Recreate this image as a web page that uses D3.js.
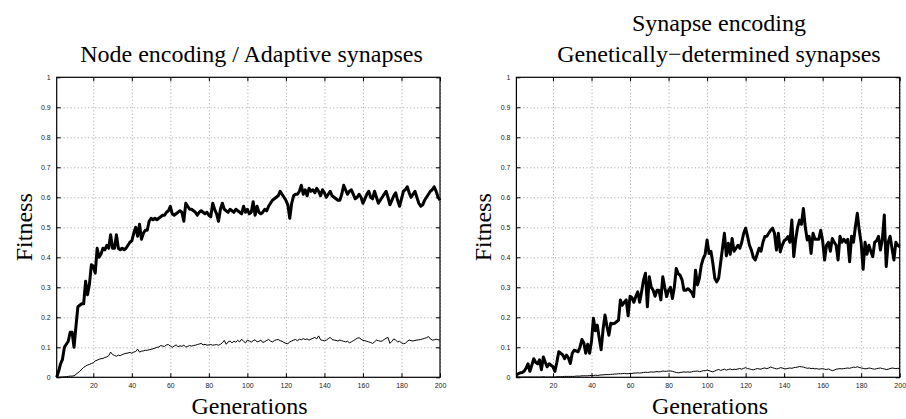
<!DOCTYPE html>
<html>
<head>
<meta charset="utf-8">
<script src="https://cdn.jsdelivr.net/npm/d3@7"></script>
<style>
  html, body { margin: 0; padding: 0; background: #fff; }
  svg { display: block; }
  .tick text { font-family: "Liberation Sans", Arial, Helvetica, sans-serif; font-size: 7px; fill: #222; }
  .ttl { font-family: "Liberation Serif", "Times New Roman", serif; font-size: 24px; fill: #000; }
</style>
</head>
<body>
<svg id="chart" width="906" height="419"></svg>
<script>
// ---------------- data ----------------
const panelTitles = [
  ["Node encoding / Adaptive synapses"],
  ["Synapse encoding", "Genetically\u2212determined synapses"]
];
const xLabel = "Generations";
const yLabel = "Fitness";
const xTicks = [20, 40, 60, 80, 100, 120, 140, 160, 180, 200];
const xTickLabels = ["20", "40", "60", "80", "100", "120", "140", "160", "180", "200"];
const yTicks = [0, 0.1, 0.2, 0.3, 0.4, 0.5, 0.6, 0.7, 0.8, 0.9, 1];
const yTickLabels = ["0", "0.1", "0.2", "0.3", "0.4", "0.5", "0.6", "0.7", "0.8", "0.9", "1"];

// Left panel: best (thick) and mean (thin) fitness, generations 1..200
const nodeBest = [
  0.00, 0.02, 0.045, 0.06, 0.10, 0.11, 0.12, 0.15, 0.15, 0.10,
  0.17, 0.235, 0.24, 0.245, 0.245, 0.32, 0.275, 0.31, 0.375, 0.37,
  0.347, 0.43, 0.40, 0.41, 0.43, 0.425, 0.44, 0.43, 0.475, 0.43,
  0.43, 0.475, 0.43, 0.425, 0.43, 0.425, 0.43, 0.44, 0.45, 0.455,
  0.48, 0.50, 0.47, 0.51, 0.46, 0.48, 0.49, 0.49, 0.52, 0.53,
  0.525, 0.53, 0.525, 0.53, 0.535, 0.54, 0.54, 0.55, 0.555, 0.57,
  0.545, 0.54, 0.545, 0.55, 0.555, 0.55, 0.52, 0.58, 0.57, 0.56,
  0.56, 0.555, 0.55, 0.54, 0.55, 0.555, 0.55, 0.545, 0.55, 0.54,
  0.535, 0.58, 0.56, 0.545, 0.52, 0.56, 0.58, 0.56, 0.555, 0.55,
  0.56, 0.555, 0.55, 0.56, 0.555, 0.55, 0.545, 0.57, 0.55, 0.56,
  0.545, 0.55, 0.585, 0.54, 0.57, 0.55, 0.545, 0.55, 0.56, 0.555,
  0.57, 0.58, 0.59, 0.595, 0.60, 0.605, 0.62, 0.61, 0.60, 0.59,
  0.575, 0.53, 0.58, 0.605, 0.61, 0.61, 0.62, 0.64, 0.61, 0.625,
  0.605, 0.63, 0.62, 0.625, 0.615, 0.63, 0.62, 0.605, 0.625, 0.615,
  0.60, 0.61, 0.62, 0.605, 0.60, 0.595, 0.59, 0.59, 0.61, 0.64,
  0.625, 0.61, 0.62, 0.625, 0.61, 0.595, 0.60, 0.61, 0.60, 0.58,
  0.595, 0.61, 0.62, 0.60, 0.595, 0.62, 0.60, 0.58, 0.59, 0.60,
  0.61, 0.62, 0.60, 0.575, 0.59, 0.605, 0.615, 0.59, 0.57, 0.595,
  0.62, 0.625, 0.635, 0.615, 0.60, 0.61, 0.62, 0.60, 0.58, 0.57,
  0.575, 0.59, 0.60, 0.61, 0.62, 0.625, 0.635, 0.62, 0.60, 0.59
];
const nodeMean = [
  0.000, 0.000, 0.001, 0.001, 0.002, 0.002, 0.003, 0.004, 0.004, 0.005,
  0.010, 0.015, 0.020, 0.027, 0.033, 0.037, 0.041, 0.043, 0.046, 0.048,
  0.055, 0.057, 0.060, 0.062, 0.063, 0.066, 0.068, 0.072, 0.084, 0.076,
  0.073, 0.070, 0.074, 0.072, 0.076, 0.078, 0.080, 0.081, 0.083, 0.080,
  0.084, 0.086, 0.094, 0.084, 0.087, 0.088, 0.090, 0.090, 0.092, 0.093,
  0.095, 0.097, 0.100, 0.101, 0.106, 0.104, 0.103, 0.108, 0.109, 0.104,
  0.100, 0.104, 0.108, 0.102, 0.105, 0.103, 0.107, 0.101, 0.103, 0.106,
  0.104, 0.106, 0.107, 0.109, 0.111, 0.113, 0.108, 0.110, 0.107, 0.108,
  0.109, 0.107, 0.108, 0.109, 0.107, 0.110, 0.115, 0.123, 0.110, 0.118,
  0.121, 0.115, 0.120, 0.117, 0.123, 0.118, 0.127, 0.120, 0.115, 0.124,
  0.121, 0.117, 0.122, 0.125, 0.118, 0.120, 0.124, 0.116, 0.119, 0.123,
  0.126, 0.121, 0.118, 0.122, 0.125, 0.126, 0.122, 0.120, 0.116, 0.113,
  0.112, 0.118, 0.121, 0.124, 0.126, 0.122, 0.127, 0.125, 0.129, 0.126,
  0.128, 0.124, 0.127, 0.130, 0.133, 0.128, 0.138, 0.125, 0.123, 0.122,
  0.124, 0.129, 0.133, 0.126, 0.124, 0.123, 0.121, 0.124, 0.122, 0.120,
  0.118, 0.120, 0.115, 0.118, 0.122, 0.126, 0.130, 0.132, 0.127, 0.123,
  0.122, 0.120, 0.118, 0.116, 0.113, 0.118, 0.124, 0.122, 0.120, 0.121,
  0.126, 0.130, 0.133, 0.113, 0.120, 0.128, 0.124, 0.118, 0.120, 0.115,
  0.112, 0.113, 0.120, 0.124, 0.122, 0.121, 0.123, 0.124, 0.125, 0.126,
  0.128, 0.130, 0.132, 0.136, 0.128, 0.124, 0.125, 0.127, 0.125, 0.124
];

// Right panel: best (thick) and mean (thin) fitness, generations 1..200
const synapseBest = [
  0.008, 0.012, 0.015, 0.016, 0.02, 0.03, 0.045, 0.02, 0.04, 0.062,
  0.05, 0.045, 0.058, 0.025, 0.068, 0.05, 0.035, 0.045, 0.04, 0.035,
  0.02, 0.05, 0.085, 0.08, 0.075, 0.062, 0.074, 0.065, 0.046, 0.08,
  0.09, 0.088, 0.085, 0.10, 0.126, 0.115, 0.08, 0.11, 0.08, 0.12,
  0.197, 0.155, 0.174, 0.13, 0.092, 0.16, 0.208, 0.17, 0.14, 0.18,
  0.178, 0.18, 0.185, 0.19, 0.258, 0.24, 0.25, 0.258, 0.205, 0.27,
  0.265, 0.25, 0.27, 0.285, 0.25, 0.285, 0.324, 0.347, 0.235, 0.335,
  0.30, 0.29, 0.27, 0.29, 0.29, 0.258, 0.335, 0.30, 0.269, 0.29,
  0.30, 0.263, 0.30, 0.363, 0.345, 0.34, 0.325, 0.29, 0.29, 0.295,
  0.29, 0.283, 0.269, 0.357, 0.308, 0.33, 0.374, 0.396, 0.41, 0.458,
  0.413, 0.42, 0.38, 0.33, 0.318, 0.33, 0.38, 0.43, 0.48, 0.405,
  0.447, 0.41, 0.463, 0.42, 0.43, 0.44, 0.43, 0.45, 0.48, 0.497,
  0.47, 0.44, 0.424, 0.40, 0.391, 0.41, 0.43, 0.42, 0.45, 0.469,
  0.47, 0.48, 0.49, 0.497, 0.48, 0.424, 0.48, 0.418, 0.44, 0.455,
  0.46, 0.469, 0.45, 0.524, 0.402, 0.46, 0.50, 0.524, 0.51, 0.563,
  0.50, 0.458, 0.47, 0.413, 0.48, 0.46, 0.46, 0.46, 0.49, 0.455,
  0.391, 0.44, 0.45, 0.42, 0.463, 0.45, 0.44, 0.391, 0.47, 0.45,
  0.46, 0.45, 0.46, 0.385, 0.47, 0.45, 0.502, 0.547, 0.49, 0.447,
  0.36, 0.45, 0.41, 0.44, 0.42, 0.402, 0.45, 0.455, 0.47, 0.424,
  0.46, 0.541, 0.369, 0.45, 0.47, 0.43, 0.391, 0.45, 0.44, 0.435
];
const synapseMean = [
  0.002, 0.002, 0.001, 0.001, 0.001, 0.001, 0.001, 0.001, 0.001, 0.001,
  0.001, 0.001, 0.001, 0.001, 0.002, 0.001, 0.001, 0.001, 0.001, 0.001,
  0.001, 0.002, 0.002, 0.002, 0.002, 0.003, 0.003, 0.003, 0.003, 0.003,
  0.003, 0.004, 0.004, 0.004, 0.005, 0.005, 0.005, 0.005, 0.006, 0.006,
  0.006, 0.007, 0.006, 0.007, 0.008, 0.008, 0.009, 0.009, 0.009, 0.010,
  0.010, 0.011, 0.011, 0.012, 0.012, 0.012, 0.013, 0.012, 0.012, 0.013,
  0.013, 0.014, 0.014, 0.015, 0.014, 0.015, 0.016, 0.017, 0.016, 0.017,
  0.018, 0.017, 0.018, 0.019, 0.018, 0.019, 0.021, 0.020, 0.020, 0.021,
  0.021, 0.020, 0.018, 0.016, 0.015, 0.016, 0.017, 0.018, 0.017, 0.018,
  0.017, 0.018, 0.020, 0.020, 0.021, 0.019, 0.020, 0.022, 0.022, 0.024,
  0.022, 0.020, 0.018, 0.021, 0.024, 0.026, 0.023, 0.025, 0.027, 0.024,
  0.026, 0.028, 0.025, 0.027, 0.026, 0.028, 0.029, 0.027, 0.030, 0.032,
  0.029, 0.028, 0.026, 0.025, 0.027, 0.029, 0.028, 0.027, 0.030, 0.031,
  0.029, 0.031, 0.034, 0.032, 0.030, 0.028, 0.029, 0.032, 0.031, 0.029,
  0.028, 0.030, 0.031, 0.030, 0.032, 0.033, 0.034, 0.036, 0.035, 0.034,
  0.032, 0.030, 0.031, 0.029, 0.030, 0.028, 0.029, 0.027, 0.028, 0.029,
  0.027, 0.026, 0.028, 0.025, 0.022, 0.024, 0.027, 0.028, 0.029, 0.028,
  0.029, 0.030, 0.031, 0.030, 0.032, 0.034, 0.033, 0.035, 0.033, 0.031,
  0.030, 0.028, 0.029, 0.031, 0.030, 0.028, 0.027, 0.029, 0.030, 0.031,
  0.029, 0.028, 0.026, 0.027, 0.029, 0.031, 0.030, 0.029, 0.030, 0.029
];

// ---------------- layout ----------------
const svg = d3.select("#chart");
const plotTop = 77.3, plotBottom = 377.3;
const panels = [
  { left: 56.7, right: 440, best: nodeBest, mean: nodeMean, titles: panelTitles[0],
    titleX: 251.5, titleY: [61.5], xLabelX: 249.5, yLabelX: 31.5 },
  { left: 516.4, right: 899.7, best: synapseBest, mean: synapseMean, titles: panelTitles[1],
    titleX: 719, titleY: [30.5, 62], xLabelX: 710, yLabelX: 491 }
];

const y = d3.scaleLinear().domain([0, 1]).range([plotBottom, plotTop]);

panels.forEach((p, pi) => {
  const x = d3.scaleLinear().domain([1, 200]).range([p.left, p.right]);
  const g = svg.append("g");
  const w = p.right - p.left, h = plotBottom - plotTop;

  // grid lines (dotted)
  g.append("g").attr("transform", `translate(0,${plotBottom})`)
    .call(d3.axisBottom(x).tickValues(xTicks).tickSize(-h).tickFormat(""))
    .call(a => a.select(".domain").remove())
    .call(a => a.selectAll("line").attr("stroke", "#8a8a8a").attr("stroke-width", 0.8).attr("stroke-dasharray", "1,2.5"));
  g.append("g").attr("transform", `translate(${p.left},0)`)
    .call(d3.axisLeft(y).tickValues(yTicks.slice(1, -1)).tickSize(-w).tickFormat(""))
    .call(a => a.select(".domain").remove())
    .call(a => a.selectAll("line").attr("stroke", "#8a8a8a").attr("stroke-width", 0.8).attr("stroke-dasharray", "1,2.5"));

  // data lines
  const line = d3.line().x((d, i) => x(i + 1)).y(d => y(d));
  g.append("path").datum(p.mean).attr("d", line)
    .attr("fill", "none").attr("stroke", "#000").attr("stroke-width", 1);
  g.append("path").datum(p.best).attr("d", line)
    .attr("fill", "none").attr("stroke", "#000").attr("stroke-width", 3)
    .attr("stroke-linejoin", "round");

  // axes with inward ticks
  const bAx = g.append("g").attr("transform", `translate(0,${plotBottom})`)
    .call(d3.axisBottom(x).tickValues(xTicks).tickSize(-4).tickPadding(5.4)
      .tickFormat((d, i) => xTickLabels[i]));
  const lAx = g.append("g").attr("transform", `translate(${p.left},0)`)
    .call(d3.axisLeft(y).tickValues(yTicks).tickSize(-4).tickPadding(6)
      .tickFormat((d, i) => yTickLabels[i]));
  const tAx = g.append("g").attr("transform", `translate(0,${plotTop})`)
    .call(d3.axisTop(x).tickValues(xTicks).tickSize(-4).tickFormat(""));
  const rAx = g.append("g").attr("transform", `translate(${p.right},0)`)
    .call(d3.axisRight(y).tickValues(yTicks).tickSize(-4).tickFormat(""));
  [bAx, lAx, tAx, rAx].forEach(a => {
    a.select(".domain").remove();
    a.selectAll("line").attr("stroke", "#000").attr("stroke-width", 1);
  });
  // box
  g.append("rect").attr("x", p.left).attr("y", plotTop).attr("width", w).attr("height", h)
    .attr("fill", "none").attr("stroke", "#000").attr("stroke-width", 1.2);

  // titles
  p.titles.forEach((t, ti) => {
    svg.append("text").attr("class", "ttl").attr("x", p.titleX).attr("y", p.titleY[ti])
      .attr("text-anchor", "middle").text(t);
  });
  // axis labels
  svg.append("text").attr("class", "ttl").attr("x", p.xLabelX).attr("y", 414.3)
    .attr("text-anchor", "middle").text(xLabel);
  svg.append("text").attr("class", "ttl")
    .attr("transform", `translate(${p.yLabelX},${(plotTop + plotBottom) / 2}) rotate(-90)`)
    .attr("text-anchor", "middle").text(yLabel);
});
</script>
</body>
</html>
